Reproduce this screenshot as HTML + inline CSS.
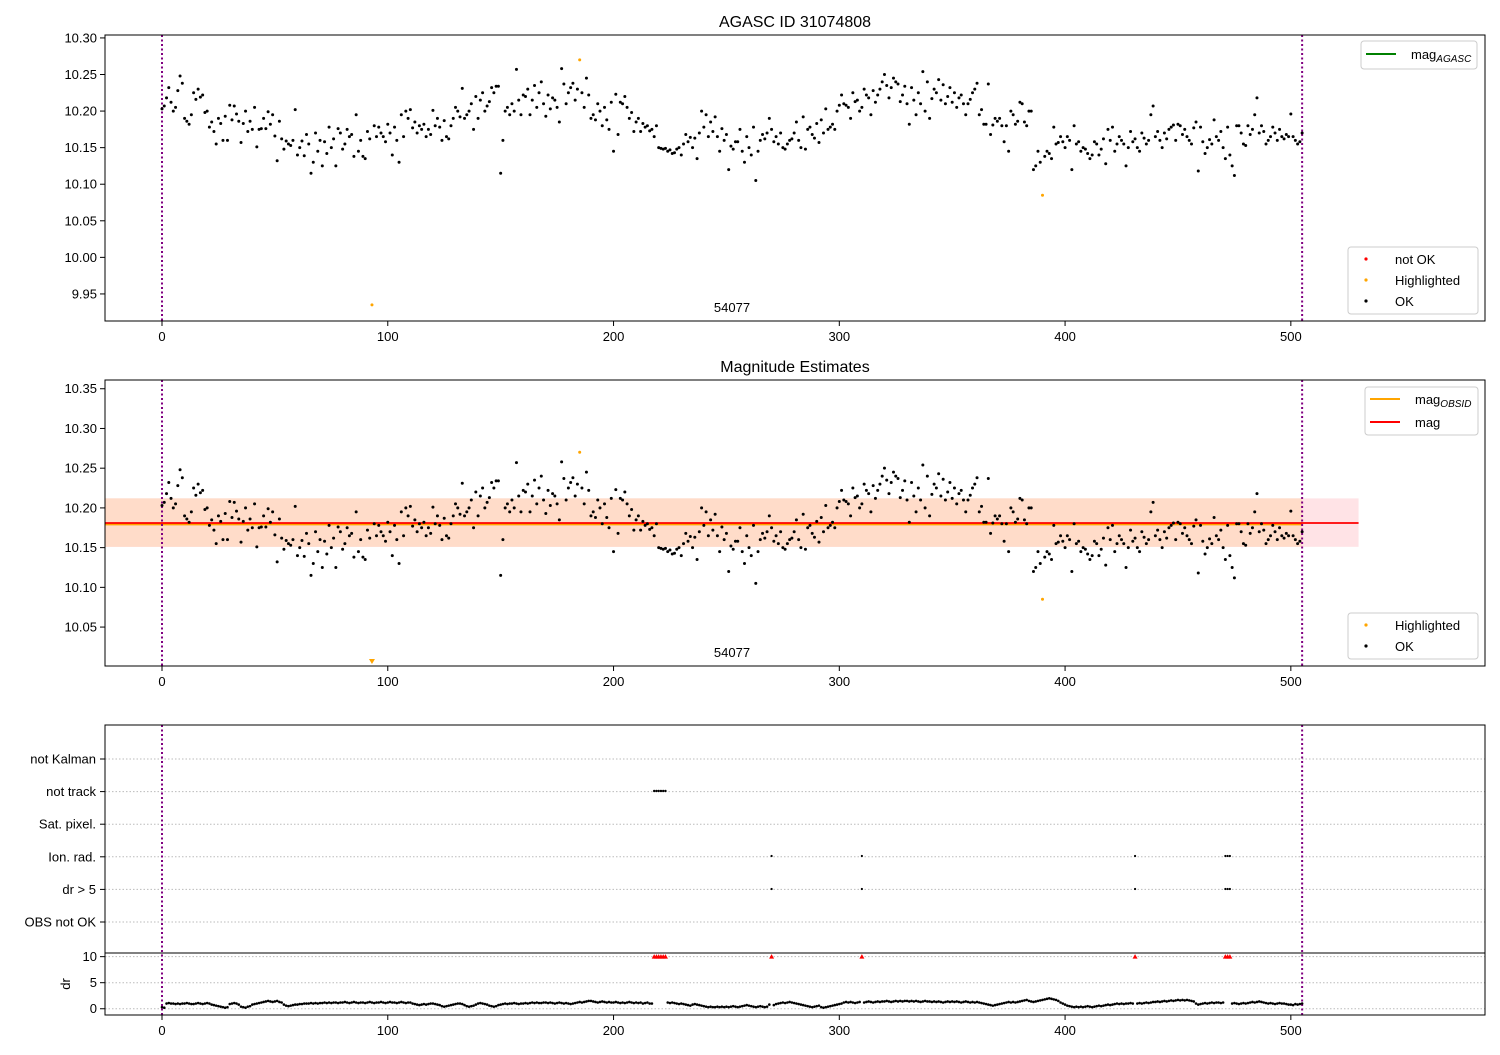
<!DOCTYPE html>
<html><head><meta charset="utf-8"><style>
body{margin:0;background:#fff;}
svg text{font-family:"Liberation Sans","DejaVu Sans",sans-serif;}
</style></head><body>
<svg id="fig" width="1500" height="1050" xmlns="http://www.w3.org/2000/svg" font-size="13"></svg>
<script>
const magMilli=[203,207,218,232,212,200,205,228,248,238,190,186,182,195,225,216,230,219,222,198,
200,178,185,172,155,190,183,160,193,160,208,188,207,196,186,157,183,200,172,186,
175,205,151,175,176,190,176,199,182,195,166,132,186,162,148,159,155,153,160,202,
140,150,159,139,168,155,115,130,170,145,160,125,158,142,178,150,162,125,176,170,
148,155,175,165,168,138,195,145,160,138,135,172,162,-65,180,165,178,170,165,158,
182,170,140,178,160,130,195,165,200,190,202,177,185,170,180,175,182,165,175,168,
201,180,190,178,160,187,165,162,180,190,205,200,192,231,190,195,200,210,175,220,
190,215,225,200,207,213,232,225,234,234,115,160,200,205,195,210,200,257,215,195,
222,220,230,195,215,235,205,225,240,210,193,222,203,218,215,205,185,258,237,210,
225,232,238,215,230,270,225,205,245,222,190,195,188,210,200,180,205,188,175,212,
145,223,168,212,210,220,205,190,198,172,185,190,172,183,178,180,173,175,165,180,
150,149,148,149,145,147,142,143,148,150,140,155,168,158,164,150,163,135,170,200,
178,195,165,185,172,192,165,145,176,160,168,120,152,148,158,158,175,145,130,165,
150,140,178,105,145,160,168,162,170,190,175,158,165,155,170,150,148,155,160,162,
170,185,160,150,192,148,175,178,168,163,183,157,188,170,203,175,178,182,175,200,
208,222,210,208,205,190,225,213,215,200,205,230,222,218,195,228,212,222,230,240,
250,235,218,232,245,240,237,213,222,234,210,182,232,215,195,225,210,254,200,240,
190,217,230,225,243,215,236,210,220,232,212,225,205,218,222,210,195,210,216,225,
230,238,195,202,182,182,237,168,181,190,186,190,180,158,180,145,200,195,182,186,
212,210,185,180,200,200,120,125,145,130,85,138,145,142,135,178,155,157,165,158,
150,165,160,120,180,155,158,145,150,148,142,135,140,158,155,140,148,162,128,175,
160,178,145,155,165,160,155,125,150,172,158,162,150,145,170,163,155,160,195,207,
165,172,160,150,170,162,175,178,181,160,182,180,168,175,165,160,155,177,185,118,
178,158,142,150,161,155,188,165,160,172,150,135,178,140,125,112,180,180,170,155,
153,180,168,175,195,218,170,180,172,155,160,165,178,170,160,175,165,162,168,165,
196,165,160,155,158,170];
const highlighted=[93,185,390];
const drTenths=[3,2,10,11,10,10,9,10,9,10,10,11,10,9,9,10,11,10,9,10,
11,10,8,7,6,5,4,3,2,3,9,10,11,10,8,4,3,2,4,5,8,9,10,11,12,13,14,15,14,13,
14,15,13,12,8,6,5,6,7,8,8,9,9,10,10,10,11,10,11,10,11,11,12,11,12,11,12,12,11,12,
12,13,12,11,12,13,12,11,12,12,11,12,13,12,11,12,12,13,12,11,12,13,12,12,11,12,13,12,11,12,
12,10,9,8,7,8,9,8,9,10,10,9,8,7,5,4,5,6,7,8,9,10,10,9,7,5,4,5,6,8,
10,11,10,9,8,6,5,4,5,7,8,9,10,9,10,10,11,10,9,10,10,11,10,11,12,11,12,11,11,12,
12,11,12,11,10,11,12,11,10,11,10,9,10,11,12,13,12,13,14,15,15,14,13,12,13,14,13,12,13,12,
12,13,12,11,12,11,12,13,12,11,12,11,12,10,11,12,10,10,105,105,105,105,105,105,12,11,12,11,10,9,
10,9,8,7,6,8,9,8,7,6,5,4,3,4,3,3,4,3,4,3,4,3,4,5,4,3,4,5,6,7,
6,5,4,3,4,5,4,3,4,8,105,7,9,10,11,12,11,12,13,12,11,10,9,8,7,6,5,4,3,4,
5,6,3,2,3,4,5,6,7,8,9,10,12,13,12,13,12,11,12,13,105,12,13,14,13,12,13,14,13,14,
14,15,14,13,14,15,14,15,14,15,15,14,15,14,15,14,13,14,15,14,14,13,14,13,14,13,12,13,14,13,
14,13,14,13,12,13,14,13,12,13,12,13,12,11,10,9,8,7,6,7,8,9,10,11,12,13,12,13,12,13,
14,15,16,17,15,14,13,14,15,16,17,18,19,20,19,18,17,15,12,10,8,6,5,4,3,4,3,4,3,4,
5,4,3,4,5,6,5,6,7,8,7,8,9,10,9,10,9,10,10,11,10,105,10,11,10,11,12,11,12,13,
13,14,13,14,15,14,15,16,15,16,17,16,17,16,17,16,15,14,10,8,9,10,11,10,11,12,11,12,12,11,
12,105,105,105,10,11,10,9,10,11,10,11,12,13,12,13,14,13,12,11,10,11,10,9,10,11,10,10,9,8,
8,7,9,8,9,10];
const notTrack=[218,219,220,221,222,223];
const ionRad=[270,310,431,471,472,473];
const flagLabels=["not Kalman","not track","Sat. pixel.","Ion. rad.","dr > 5","OBS not OK"];
const xTicks=[0,100,200,300,400,500];
const magMean=10.181, magObsid=10.1805, magLo=10.151, magHi=10.212, obsLast=505, obsEnd=530;
const topTicks=[9.95,10.00,10.05,10.10,10.15,10.20,10.25,10.30];
const midTicks=[10.05,10.10,10.15,10.20,10.25,10.30,10.35];
const drTicks=[0,5,10];

const S=document.getElementById('fig');const NS='http://www.w3.org/2000/svg';
function el(t,a,p){const e=document.createElementNS(NS,t);for(const k in a)e.setAttribute(k,a[k]);(p||S).appendChild(e);return e;}
const L=105,R=1485;
const X=v=>L+(v+25.25)*(R-L)/611.25;
const mag=magMilli.map(m=>10+m/1000);
const yTop=v=>35+(10.304-v)*286/0.391;
const yMid=v=>380+(10.361-v)*286/0.36;
const yDr=v=>953+(10.7-v)*62/11.9;

function xaxis(yb){xTicks.forEach(t=>{el('line',{x1:X(t),x2:X(t),y1:yb,y2:yb+5,stroke:'#000'});const tx=el('text',{x:X(t),y:yb+20,'text-anchor':'middle'});tx.textContent=t;});}
function yaxis(ticks,f,fmt){ticks.forEach(t=>{const y=f(t);el('line',{x1:L-5,x2:L,y1:y,y2:y,stroke:'#000'});const tx=el('text',{x:L-8,y:y+4.5,'text-anchor':'end'});tx.textContent=fmt(t);});}
function vlines(y1,y2){[0,505].forEach(v=>el('line',{x1:X(v),x2:X(v),y1,y2,stroke:'purple','stroke-width':2,'stroke-dasharray':'2,2.5'}));}
function frame(y1,y2,name){const r=el('rect',{x:L,y:y1,width:R-L,height:y2-y1,fill:'none',stroke:'#000'});}
function title(t,y){const e=el('text',{x:795,y,'text-anchor':'middle','font-size':16});e.textContent=t;}

// TOP
title('AGASC ID 31074808',27);
vlines(35,321);
mag.forEach((v,i)=>{const h=highlighted.includes(i);const c=el('circle',{cx:X(i),cy:yTop(v),r:1.5,fill:h?'orange':'#000'});});
frame(35,321,'top-axes');yaxis(topTicks,yTop,t=>t.toFixed(2));xaxis(321);
let t=el('text',{x:732,y:312,'text-anchor':'middle'});t.textContent='54077';
// MID
title('Magnitude Estimates',372);
el('rect',{x:L,y:yMid(magHi),width:X(obsEnd)-L,height:yMid(magLo)-yMid(magHi),fill:'#ffe3e6'});
el('rect',{x:L,y:yMid(magHi),width:X(obsLast)-L,height:yMid(magLo)-yMid(magHi),fill:'#ffdcc9'});
el('line',{x1:L,x2:X(obsLast),y1:yMid(magObsid)+1,y2:yMid(magObsid)+1,stroke:'orange','stroke-width':2});
el('line',{x1:L,x2:X(obsEnd),y1:yMid(magMean),y2:yMid(magMean),stroke:'red','stroke-width':1.8});
vlines(380,666);
mag.forEach((v,i)=>{const h=highlighted.includes(i);
 if(v<10.001){const px=X(i),py=663;const p=el('polygon',{points:`${px-3},${py-4} ${px+3},${py-4} ${px},${py+1}`,fill:'orange'});return;}
 const c=el('circle',{cx:X(i),cy:yMid(v),r:1.5,fill:h?'orange':'#000'});});
frame(380,666,'middle-axes');yaxis(midTicks,yMid,t=>t.toFixed(2));xaxis(666);
t=el('text',{x:732,y:657,'text-anchor':'middle'});t.textContent='54077';
// BOTTOM flags
flagLabels.forEach((lb,k)=>{const y=759+k*32.6;el('line',{x1:L,x2:R,y1:y,y2:y,stroke:'#bbb','stroke-dasharray':'1.5,2'});el('line',{x1:L-5,x2:L,y1:y,y2:y,stroke:'#000'});const tx=el('text',{x:L-9,y:y+4.5,'text-anchor':'end'});tx.textContent=lb;});
notTrack.forEach(i=>{const c=el('circle',{cx:X(i),cy:791,r:1.2,fill:'#000'});});
ionRad.forEach(i=>{[856,889].forEach(y=>{const c=el('circle',{cx:X(i),cy:y,r:1.1,fill:'#000'});});});
drTicks.forEach(v=>el('line',{x1:L,x2:R,y1:yDr(v),y2:yDr(v),stroke:'#bbb','stroke-dasharray':'1.5,2'}));
vlines(725,1015);
drTenths.forEach((d,i)=>{const v=d/10;if(v>10){const px=X(i),py=yDr(10);const p=el('polygon',{points:`${px-2.5},${py+2} ${px+2.5},${py+2} ${px},${py-2.5}`,fill:'red'});return;}
 const c=el('circle',{cx:X(i),cy:yDr(v),r:1.3,fill:'#000'});});
frame(725,1015,'flags-axes');el('line',{x1:L,x2:R,y1:953,y2:953,stroke:'#000'});
yaxis(drTicks,yDr,t=>t);xaxis(1015);
t=el('text',{x:70,y:984,'text-anchor':'middle',transform:'rotate(-90 70 984)'});t.textContent='dr';
// LEGENDS
function legBox(x,y,w,h,name){const r=el('rect',{x,y,width:w,height:h,rx:3,fill:'#fff','fill-opacity':0.85,stroke:'#ccc'});}
function legLine(x,y,c,lab,sub){el('line',{x1:x,x2:x+30,y1:y,y2:y,stroke:c,'stroke-width':2});const tx=el('text',{x:x+45,y:y+5});tx.textContent=lab;if(sub){const s=el('tspan',{'font-size':10,'font-style':'italic',dy:3},tx);s.textContent=sub;}}
function legDot(x,y,c,lab){el('circle',{cx:x+15,cy:y,r:1.6,fill:c});const tx=el('text',{x:x+44,y:y+5});tx.textContent=lab;}
legBox(1361,41,116,28,'legend-agasc');legLine(1366,54,'green','mag','AGASC');
legBox(1348,247,130,67,'legend-status');legDot(1351,259,'red','not OK');legDot(1351,280,'orange','Highlighted');legDot(1351,301,'#000','OK');
legBox(1365,387,113,48,'legend-mag');legLine(1370,399,'orange','mag','OBSID');legLine(1370,422,'red','mag');
legBox(1348,613,130,46,'legend-status-mid');legDot(1351,625,'orange','Highlighted');legDot(1351,646,'#000','OK');
</script>
</body></html>
